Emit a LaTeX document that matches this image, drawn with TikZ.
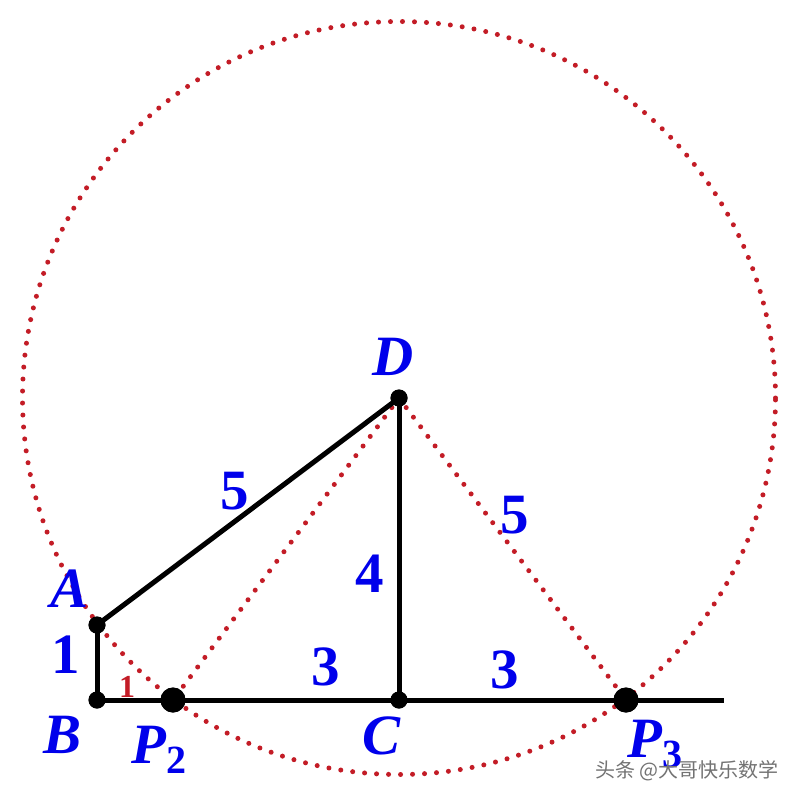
\documentclass[tikz,border=0pt]{standalone}
\usepackage{fontspec}
\setmainfont{Liberation Serif}
\newfontfamily\cjkfont{Noto Sans CJK SC}
\definecolor{lblblue}{RGB}{0,0,235}
\definecolor{dotred}{RGB}{195,28,38}
\begin{document}
\begin{tikzpicture}[x=1pt,y=-1pt,
  seg/.style={line width=5pt},
  dotline/.style={dotred,line width=5pt,line cap=round,dash pattern=on 0pt off 12pt},
  circdots/.style={dotred,line width=5pt,line cap=round,dash pattern=on 0pt off 12pt},
  ptdot/.style={circle,fill=black,inner sep=0pt,minimum size=17pt},
  bigdot/.style={circle,fill=black,inner sep=0pt,minimum size=25pt},
  lbl/.style={text=lblblue,font=\fontsize{57}{60}\selectfont\bfseries\itshape,inner sep=0pt,anchor=base},
  num/.style={text=lblblue,font=\fontsize{57}{60}\selectfont\bfseries,inner sep=0pt,anchor=base},
  ]
\useasboundingbox (0,0) rectangle (796,800);
\fill[white] (0,0) rectangle (796,800);
% points
\coordinate (Dc) at (399,398);
\coordinate (E) at (724,700);
% circle centred at D
\draw[circdots] (Dc) circle[radius=376.5pt];
% nodes
\node[ptdot] (A) at (97,625) {};
\node[ptdot] (B) at (97,700) {};
\node[ptdot] (C) at (399,700) {};
\node[ptdot] (D) at (Dc) {};
\node[bigdot] (P2) at (173,700) {};
\node[bigdot] (P3) at (626,700) {};
% dotted segments
\draw[dotline] (D.center) -- (P2.center);
\draw[dotline] (D.center) -- (P3.center);
% solid segments
\draw[seg] (A.center) -- (D.center);
\draw[seg] (A.center) -- (B.center);
\draw[seg] (B.center) -- (E);
\draw[seg] (D.center) -- (C.center);
% redraw dots on top
\fill (A) circle[radius=8.5pt];
\fill (B) circle[radius=8.5pt];
\fill (C) circle[radius=8.5pt];
\fill (D) circle[radius=8.5pt];
\fill (P2) circle[radius=12.5pt];
\fill (P3) circle[radius=12.5pt];
% labels
\node[lbl] (lA) at (70,607) {A};
\node[lbl] (lB) at (63,753) {B};
\node[lbl] (lC) at (382,754) {C};
\node[lbl] (lD) at (393,375) {D};
\node[lbl] (lP2) at (159,763) {P\raisebox{-10pt}{\fontsize{40}{42}\selectfont\bfseries\upshape 2}};
\node[lbl] (lP3) at (655,757) {P\raisebox{-10pt}{\fontsize{40}{42}\selectfont\bfseries\upshape 3}};
\node[num] (n1) at (66,673) {1};
\node[num] (n5a) at (235,509) {5};
\node[num] (n4) at (370,592) {4};
\node[num] (n3a) at (326,685) {3};
\node[num] (n3b) at (505,688) {3};
\node[num] (n5b) at (515,533) {5};
\node[text=dotred,font=\fontsize{32}{34}\selectfont\bfseries,inner sep=0pt,anchor=base] (r1) at (127,697) {1};
% watermark
\node[font=\cjkfont\fontsize{20}{22}\selectfont,text=black!55,inner sep=0pt,anchor=base west] (wm) at (595,777) {头条 @大哥快乐数学};
\end{tikzpicture}
\end{document}
